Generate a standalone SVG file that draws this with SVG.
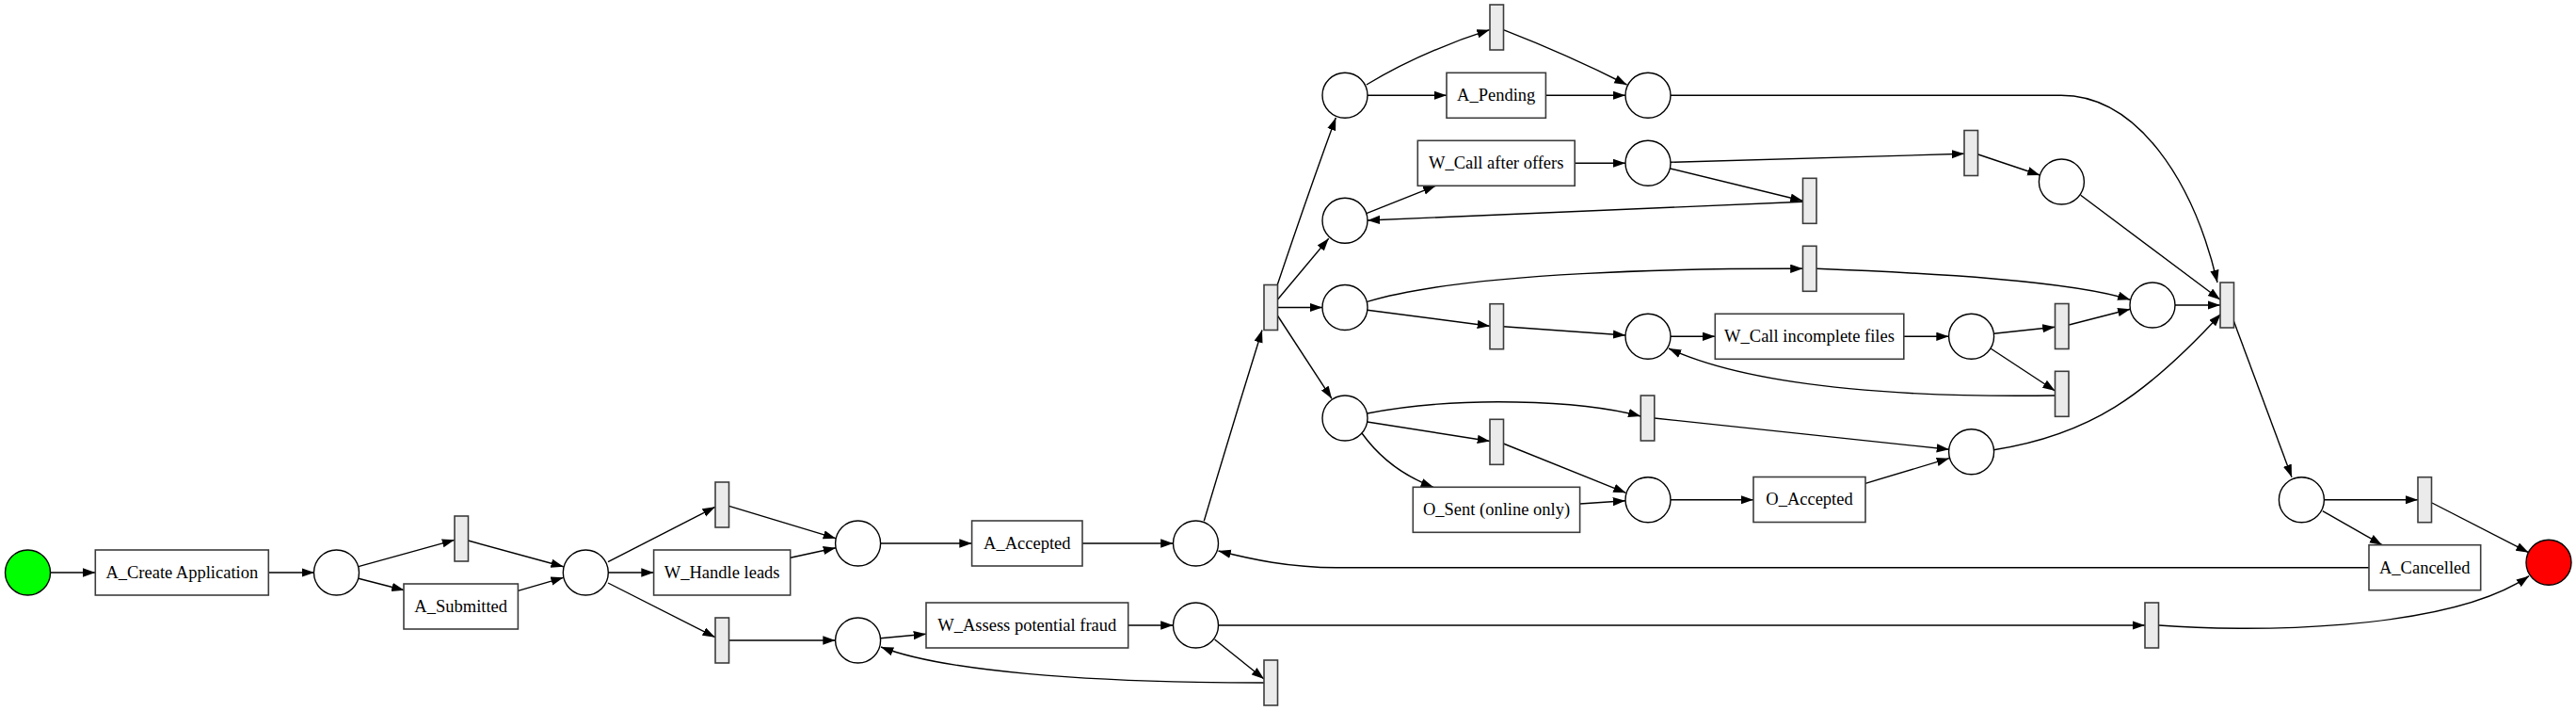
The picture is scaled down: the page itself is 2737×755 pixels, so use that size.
<svg xmlns="http://www.w3.org/2000/svg" width="2737" height="755" viewBox="0 0 2737 755">
<style>
.place{fill:#fff;stroke:#000;stroke-width:1.4}
.box{fill:#fff;stroke:#3c3c3c;stroke-width:1.6}
.silent{fill:#ebebeb;stroke:#3c3c3c;stroke-width:1.6}
.lbl{font-family:"Liberation Serif","Times New Roman",serif;font-size:18.5px;text-anchor:middle;fill:#000}
.e{fill:none;stroke:#000;stroke-width:1.4;marker-end:url(#ah)}
</style>
<defs>
<marker id="ah" markerUnits="userSpaceOnUse" markerWidth="14" markerHeight="10" refX="13.3" refY="4.65" orient="auto">
<path d="M0,0 L13.3,4.65 L0,9.3 Z" fill="#000"/>
</marker>
</defs>
<rect width="2737" height="755" fill="#fff"/>
<g id="connectors">
<path class="e" d="M53.6,608 H101.3"/>
<path class="e" d="M285.3,608 H334"/>
<path class="e" d="M380.8,601.7 L483,573.3"/>
<path class="e" d="M380.8,614.3 L429.5,626.7"/>
<path class="e" d="M497.3,574 L598.7,601.7"/>
<path class="e" d="M550.4,627.3 L598.7,613.3"/>
<path class="e" d="M646,596.7 L759.8,538.3"/>
<path class="e" d="M646,608 H694.6"/>
<path class="e" d="M646,619 L759.8,676.7"/>
<path class="e" d="M774.6,537.3 L888,571.7"/>
<path class="e" d="M839.7,592.3 L888,581.7"/>
<path class="e" d="M935.3,577 H1032.6"/>
<path class="e" d="M1150,577 H1246.5"/>
<path class="e" d="M775,680 H887.6"/>
<path class="e" d="M935.7,677.7 L984,673.3"/>
<path class="e" d="M1198.7,664 H1246.5"/>
<path class="e" d="M1294.5,664 H2279"/>
<path class="e" d="M1290.6,679 L1343,721"/>
<path class="e" d="M1343,725 C1150,725 1000,712 936,687"/>
<path class="e" d="M1279.3,553.3 Q1310,450 1341,350.5"/>
<path class="e" d="M1357.3,302.3 Q1390,205 1419.3,125"/>
<path class="e" d="M1357.3,318.3 L1411.7,253.3"/>
<path class="e" d="M1357.3,326.5 H1405"/>
<path class="e" d="M1357.3,335 L1415,423.3"/>
<path class="e" d="M1451.8,90 Q1510,55 1582.6,31.7"/>
<path class="e" d="M1452.7,101.3 H1537"/>
<path class="e" d="M1597.3,31.7 Q1665,58 1728.6,90"/>
<path class="e" d="M1642.4,101.3 H1727"/>
<path class="e" d="M1774.6,101.3 H2190 C2270,101.3 2330,190 2356,300"/>
<path class="e" d="M1451.8,226.7 L1525.4,197.3"/>
<path class="e" d="M1673.2,173.3 H1727"/>
<path class="e" d="M1774.6,172.3 L2087,163.3"/>
<path class="e" d="M1774.6,179 L1915.5,213.3"/>
<path class="e" d="M1915.5,214.3 L1453,234"/>
<path class="e" d="M2101.8,164 L2167.4,186"/>
<path class="e" d="M2210.7,207.3 L2359,318.3"/>
<path class="e" d="M1452.7,320.3 C1560,288 1800,285 1915.5,285.3"/>
<path class="e" d="M1452.7,329.3 L1583,346.2"/>
<path class="e" d="M1597.3,346.7 L1727.2,356"/>
<path class="e" d="M1774.6,357.3 H1822.3"/>
<path class="e" d="M2022.8,357.3 H2070.6"/>
<path class="e" d="M2118.3,354.3 L2183.5,347.3"/>
<path class="e" d="M2115,370 L2183.5,415"/>
<path class="e" d="M2183.5,420 C2050,422 1870,415 1773,370"/>
<path class="e" d="M2198.2,345 L2263.4,328.3"/>
<path class="e" d="M1930,285.3 C2050,290 2200,298 2263.4,318.3"/>
<path class="e" d="M2310.7,324 H2359"/>
<path class="e" d="M1452.7,439 C1550,420 1680,425 1743.3,442"/>
<path class="e" d="M1452.7,448 L1583,468.5"/>
<path class="e" d="M1447,460 C1465,485 1490,505 1523,517.3"/>
<path class="e" d="M1597.3,471 L1727.5,523.3"/>
<path class="e" d="M1678.6,535 L1727,531.7"/>
<path class="e" d="M1774.6,530.7 H1863"/>
<path class="e" d="M1982,513.3 L2071,486.7"/>
<path class="e" d="M1757.6,444 L2071,477.3"/>
<path class="e" d="M2118.3,477.7 C2220,462 2280,420 2359.8,333.3"/>
<path class="e" d="M2373,340 L2435,506.7"/>
<path class="e" d="M2469,530.7 H2569"/>
<path class="e" d="M2467.8,542.7 L2531,578.7"/>
<path class="e" d="M2584,534 L2686.6,586.7"/>
<path class="e" d="M2517,602.7 H1420 C1370,602.7 1330,594 1294.5,585"/>
<path class="e" d="M2293.7,664 C2380,671 2600,672 2687,611.7"/>
</g>
<g id="start"><circle cx="29.5" cy="608" r="24" fill="#00ff00" stroke="#000" stroke-width="1.4"/></g>
<g id="end"><circle cx="2708" cy="597.3" r="24" fill="#ff0000" stroke="#000" stroke-width="1.4"/></g>
<g id="p1"><circle class="place" cx="357.5" cy="608" r="24"/></g>
<g id="p2"><circle class="place" cx="622.3" cy="608" r="24"/></g>
<g id="p3"><circle class="place" cx="911.6" cy="577" r="24"/></g>
<g id="p4"><circle class="place" cx="1270.5" cy="577" r="24"/></g>
<g id="p5"><circle class="place" cx="911.6" cy="680" r="24"/></g>
<g id="p6"><circle class="place" cx="1270.5" cy="664" r="24"/></g>
<g id="pA"><circle class="place" cx="1429" cy="101.3" r="24"/></g>
<g id="pB"><circle class="place" cx="1751" cy="101.3" r="24"/></g>
<g id="pC"><circle class="place" cx="1751" cy="173.3" r="24"/></g>
<g id="pD"><circle class="place" cx="1429" cy="234.3" r="24"/></g>
<g id="pC2"><circle class="place" cx="2190.4" cy="193" r="24"/></g>
<g id="pE"><circle class="place" cx="1429" cy="326.5" r="24"/></g>
<g id="pF"><circle class="place" cx="1429" cy="444" r="24"/></g>
<g id="pG"><circle class="place" cx="1751" cy="357.3" r="24"/></g>
<g id="pI"><circle class="place" cx="2094.6" cy="357.3" r="24"/></g>
<g id="pJ"><circle class="place" cx="2287" cy="324" r="24"/></g>
<g id="pH"><circle class="place" cx="1751" cy="530.7" r="24"/></g>
<g id="pK"><circle class="place" cx="2094.6" cy="479.7" r="24"/></g>
<g id="pFinal"><circle class="place" cx="2445.4" cy="530.7" r="24"/></g>
<g id="t1"><rect class="silent" x="483" y="548" width="14.5" height="48"/></g>
<g id="t2"><rect class="silent" x="760" y="512" width="14.5" height="48"/></g>
<g id="t3"><rect class="silent" x="760" y="656" width="14.5" height="48"/></g>
<g id="t4"><rect class="silent" x="1343" y="701" width="14.5" height="48"/></g>
<g id="t5"><rect class="silent" x="2279" y="640" width="14.5" height="48"/></g>
<g id="tBig"><rect class="silent" x="1343" y="302.5" width="14.5" height="48"/></g>
<g id="tTop"><rect class="silent" x="1583" y="5" width="14.5" height="48"/></g>
<g id="tLoop1"><rect class="silent" x="1915.5" y="189.3" width="14.5" height="48"/></g>
<g id="tC1"><rect class="silent" x="2087" y="138.5" width="14.5" height="48"/></g>
<g id="tE1"><rect class="silent" x="1915.5" y="261.3" width="14.5" height="48"/></g>
<g id="tE2"><rect class="silent" x="1583" y="322.7" width="14.5" height="48"/></g>
<g id="tF1"><rect class="silent" x="1743.3" y="420" width="14.5" height="48"/></g>
<g id="tF2"><rect class="silent" x="1583" y="445.3" width="14.5" height="48"/></g>
<g id="tI1"><rect class="silent" x="2183.5" y="322.5" width="14.5" height="48"/></g>
<g id="tI2"><rect class="silent" x="2183.5" y="394.3" width="14.5" height="48"/></g>
<g id="tJoin"><rect class="silent" x="2359" y="300" width="14.5" height="48"/></g>
<g id="tEnd"><rect class="silent" x="2569" y="506.7" width="14.5" height="48"/></g>
<g id="A_Create_Application"><rect class="box" x="101.3" y="584" width="184" height="48"/><text class="lbl" x="193.3" y="613.8">A_Create Application</text></g>
<g id="A_Submitted"><rect class="box" x="429" y="620" width="121.4" height="48"/><text class="lbl" x="489.7" y="649.8">A_Submitted</text></g>
<g id="W_Handle_leads"><rect class="box" x="694.6" y="584" width="145.1" height="48"/><text class="lbl" x="767.2" y="613.8">W_Handle leads</text></g>
<g id="A_Accepted"><rect class="box" x="1032.6" y="553" width="117.4" height="48"/><text class="lbl" x="1091.3" y="582.8">A_Accepted</text></g>
<g id="W_Assess_potential_fraud"><rect class="box" x="984" y="640" width="214.7" height="48"/><text class="lbl" x="1091.3" y="669.8">W_Assess potential fraud</text></g>
<g id="A_Pending"><rect class="box" x="1537" y="77.3" width="105.4" height="48"/><text class="lbl" x="1589.7" y="107.1">A_Pending</text></g>
<g id="W_Call_after_offers"><rect class="box" x="1506.3" y="149.3" width="166.9" height="48"/><text class="lbl" x="1589.7" y="179.1">W_Call after offers</text></g>
<g id="W_Call_incomplete_files"><rect class="box" x="1822.3" y="333.3" width="200.5" height="48"/><text class="lbl" x="1922.5" y="363.1">W_Call incomplete files</text></g>
<g id="O_Sent_online_only"><rect class="box" x="1501.3" y="517.3" width="177.3" height="48"/><text class="lbl" x="1590" y="547.1">O_Sent (online only)</text></g>
<g id="O_Accepted"><rect class="box" x="1863" y="506.5" width="119" height="48"/><text class="lbl" x="1922.5" y="536.3">O_Accepted</text></g>
<g id="A_Cancelled"><rect class="box" x="2517" y="578.7" width="118.7" height="48"/><text class="lbl" x="2576.3" y="608.5">A_Cancelled</text></g>
</svg>
